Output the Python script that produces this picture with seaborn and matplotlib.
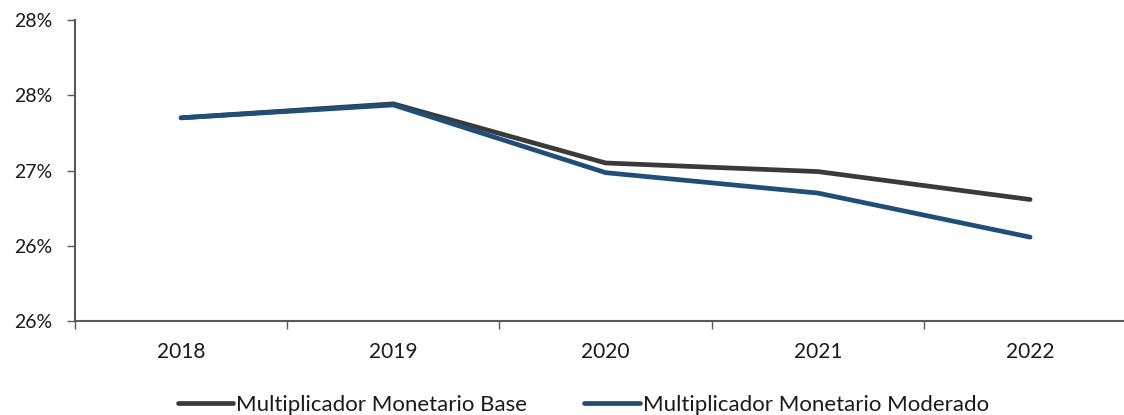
import matplotlib
matplotlib.use("Agg")
import matplotlib.pyplot as plt
from matplotlib.lines import Line2D
import seaborn as sns
import pandas as pd

# Data (percent)
years = ["2018", "2019", "2020", "2021", "2022"]
base = [27.39, 27.52, 26.97, 26.89, 26.63]
moderado = [27.39, 27.51, 26.88, 26.69, 26.28]
series_names = ["Multiplicador Monetario Base", "Multiplicador Monetario Moderado"]
y_ticks = [25.5, 26.2, 26.9, 27.6, 28.3]
y_tick_labels = ["26%", "26%", "27%", "28%", "28%"]

colors = {series_names[0]: "#3a3a3a", series_names[1]: "#1f4e79"}

df = pd.DataFrame({
    "pos": list(range(len(years))) * 2,
    "value": base + moderado,
    "series": [series_names[0]] * len(years) + [series_names[1]] * len(years),
})

sns.set_style("white")
plt.rcParams["font.family"] = ["Lato", "DejaVu Sans"]

fig = plt.figure(figsize=(11.24, 4.15), dpi=100)
# plot area runs slightly past the right edge of the canvas
ax = fig.add_axes([0.0667, 0.2265, 0.9442, 0.7253])

sns.lineplot(data=df, x="pos", y="value", hue="series", palette=colors,
             linewidth=3.4, ax=ax, legend=False, sort=False,
             solid_capstyle="round", solid_joinstyle="miter")

ax.set_xlim(-0.5, len(years) - 0.5)
ax.set_ylim(y_ticks[0], y_ticks[-1])

# category boundaries as major ticks, labels centred on minor ticks
ax.set_xticks([i - 0.5 for i in range(len(years))])
ax.set_xticklabels([])
ax.set_xticks(range(len(years)), minor=True)
ax.set_xticklabels(years, minor=True)
ax.tick_params(axis="x", which="major", direction="out", length=6, width=1,
               color="#595959", bottom=True)
ax.tick_params(axis="x", which="minor", length=0, pad=15, labelsize=15,
               labelcolor="#1a1a1a")

ax.set_yticks(y_ticks)
ax.set_yticklabels(y_tick_labels)
ax.tick_params(axis="y", direction="out", length=6, width=1, color="#595959",
               left=True, labelsize=14, labelcolor="#1a1a1a", pad=10)

ax.set_xlabel("")
ax.set_ylabel("")
for side in ["top", "right"]:
    ax.spines[side].set_visible(False)
for side in ["left", "bottom"]:
    ax.spines[side].set_color("#595959")
    ax.spines[side].set_linewidth(1.5)
ax.grid(False)

handles = [Line2D([0], [0], color=colors[n], linewidth=3.4, solid_capstyle="round")
           for n in series_names]
fig.legend(handles, series_names, loc="center", ncol=2, frameon=False,
           bbox_to_anchor=(0.519, 0.025), fontsize=16, handlelength=2.5,
           handletextpad=0.15, columnspacing=2.55, labelcolor="#1a1a1a",
           borderpad=0)

fig.savefig("out.png", dpi=100, facecolor="white")
